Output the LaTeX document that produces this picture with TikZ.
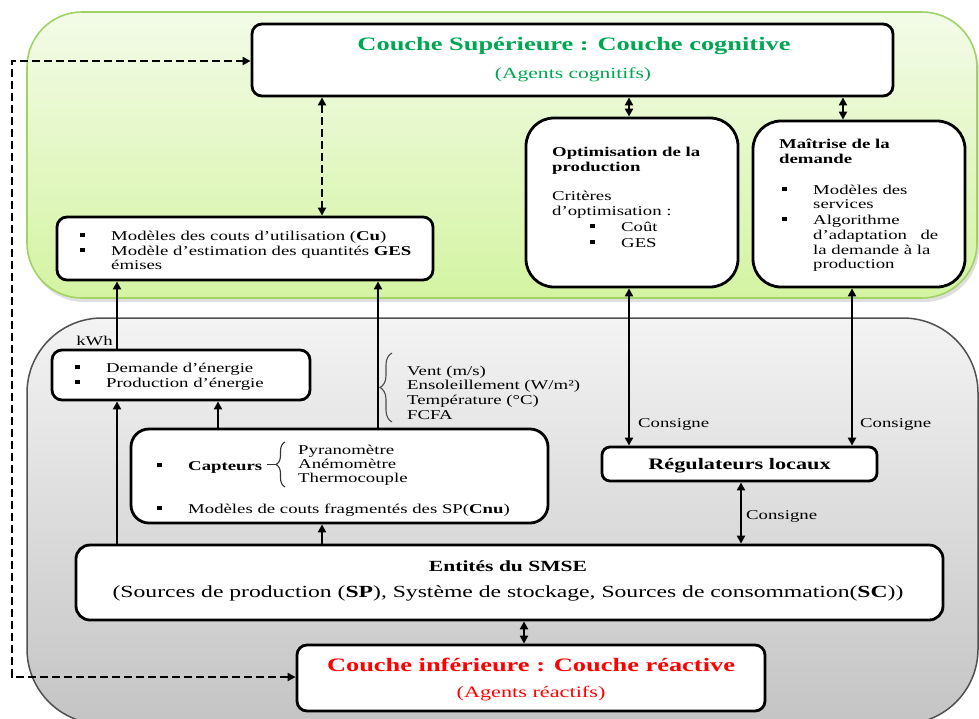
\documentclass[tikz,border=0pt]{standalone}
\usepackage{fontspec}
\setmainfont{Liberation Serif}[FakeStretch=1.39]
\usetikzlibrary{arrows.meta,decorations.pathreplacing,shadows}
\definecolor{titlegreen}{RGB}{0,166,81}
\definecolor{titlered}{RGB}{255,0,0}
\definecolor{greenfillA}{RGB}{243,251,232}
\definecolor{greenfillB}{RGB}{212,244,162}
\definecolor{greenedge}{RGB}{160,210,100}
\definecolor{grayfillA}{RGB}{243,243,243}
\definecolor{grayfillB}{RGB}{196,196,196}
\definecolor{grayedge}{RGB}{80,80,80}
\newcommand\bodyfont{\fontsize{13.5}{15}\selectfont}
\newcommand\bigtitlefont{\fontsize{19}{22}\selectfont\bfseries}
\newcommand\bul{\makebox[31pt][l]{\rule[0.2em]{4.5pt}{4.5pt}}}
\begin{document}
\begin{tikzpicture}[x=1pt,y=-1pt,
  box/.style={draw,line width=2.8pt,fill=white,rounded corners=10pt,inner sep=0pt},
  txt/.style={inner sep=0pt,anchor=base west,font=\bodyfont},
  ctxt/.style={inner sep=0pt,anchor=base},
  arr/.style={line width=2.8pt,-{Triangle[length=8pt,width=8pt]}},
  darr/.style={line width=2.8pt,{Triangle[length=8pt,width=8pt]}-{Triangle[length=8pt,width=8pt]}},
  ddash/.style={line width=2.8pt,dash pattern=on 8pt off 4pt,{Triangle[length=8pt,width=8pt]}-{Triangle[length=8pt,width=8pt]}},
  bracestyle/.style={decorate,line width=1.1pt}
]
\useasboundingbox (0,0) rectangle (979,718);
% layers
\draw[line width=1.6pt,draw=greenedge,top color=greenfillA,bottom color=greenfillB,rounded corners=55pt,
  drop shadow={opacity=0.25,shadow xshift=2pt,shadow yshift=-4pt}] (27,12) rectangle (977,298);
\draw[line width=1.5pt,draw=grayedge,top color=grayfillA,bottom color=grayfillB,rounded corners=75pt] (27,318) rectangle (978,724);

% boxes
\node[box,minimum width=641pt,minimum height=72pt] (top) at (572.5,60) {};
\node[box,minimum width=376pt,minimum height=63pt] (models) at (245,248.5) {};
\node[box,minimum width=212pt,minimum height=169pt,rounded corners=28pt] (optim) at (632,202.5) {};
\node[box,minimum width=212pt,minimum height=166pt,rounded corners=28pt] (maitrise) at (859,204) {};
\node[box,minimum width=258pt,minimum height=50pt] (demande) at (181,375) {};
\node[box,minimum width=417pt,minimum height=94pt,rounded corners=18pt] (capteurs) at (339.5,476) {};
\node[box,minimum width=275pt,minimum height=34pt,rounded corners=8pt] (reg) at (739.5,464) {};
\node[box,minimum width=867pt,minimum height=75pt,rounded corners=14pt] (entites) at (509.5,582.5) {};
\node[box,minimum width=468pt,minimum height=66pt] (inf) at (531,678) {};

% column coordinates
\coordinate (xd) at (322,0);
\coordinate (xo) at (629,0);
\coordinate (xm) at (843,0);
\coordinate (xm2) at (852,0);
\coordinate (xk) at (117,0);
\coordinate (xc) at (218,0);
\coordinate (xe) at (378,0);
\coordinate (xr) at (741,0);
\coordinate (xi) at (524,0);
\coordinate (dl1) at (12,61);
\coordinate (dl2) at (12,677);

% texts: top
\node[ctxt,font=\bigtitlefont,text=titlegreen] (toptitle) at (574,50) {Couche Supérieure : Couche cognitive};
\node[ctxt,font=\fontsize{15.5}{18}\selectfont,text=titlegreen] (topsub) at (573,78) {(Agents cognitifs)};

% models
\node[txt] (m1) at (80,240) {\bul Modèles des couts d'utilisation (\textbf{Cu})};
\node[txt] (m2) at (80,255) {\bul Modèle d'estimation des quantités \textbf{GES}};
\node[txt] (m3) at (111,269) {émises};

% optimisation
\node[txt] (o1) at (552,156) {\textbf{Optimisation de la}};
\node[txt] (o2) at (552,171) {\textbf{production}};
\node[txt] (o3) at (552,200) {Critères};
\node[txt] (o4) at (552,215) {d'optimisation :};
\node[txt] (o5) at (590,231) {\bul Coût};
\node[txt] (o6) at (590,247) {\bul GES};

% maitrise
\node[txt] (d1) at (779,148) {\textbf{Maîtrise de la}};
\node[txt] (d2) at (779,163) {\textbf{demande}};
\node[txt] (d3) at (782,194) {\bul Modèles des};
\node[txt] (d4) at (813,208) {services};
\node[txt] (d5) at (782,224) {\bul Algorithme};
\node[txt] (d6) at (813,239) {\hbox to 125pt{d'adaptation\hfill de}};
\node[txt] (d7) at (813,254) {la demande à la};
\node[txt] (d8) at (813,268) {production};

% demande
\node[txt] (e1) at (75,372) {\bul Demande d'énergie};
\node[txt] (e2) at (75,387) {\bul Production d'énergie};
\node[txt,anchor=base east] (kwh) at (113,345) {kWh};

% environment
\node[txt] (v1) at (407,375) {Vent (m/s)};
\node[txt] (v2) at (407,389) {Ensoleillement (W/m²)};
\node[txt] (v3) at (407,404) {Température (°C)};
\node[txt] (v4) at (407,419) {FCFA};
\draw[bracestyle,draw=black!70,decoration={brace,amplitude=12pt}] (392,422) -- (392,353);

% capteurs
\node[txt] (c1) at (157,470) {\bul\textbf{Capteurs}};
\node[txt] (c2) at (298,454) {Pyranomètre};
\node[txt] (c3) at (298,468) {Anémomètre};
\node[txt] (c4) at (298,482) {Thermocouple};
\node[txt] (c5) at (157,513) {\bul Modèles de couts fragmentés des SP(\textbf{Cnu})};
\draw[bracestyle,draw=black!80,decoration={brace,amplitude=9pt}] (285,487) -- (285,442);
\draw[line width=0.9pt,draw=black!80] (267,464.5) -- (276,464.5);

% regulateurs
\node[ctxt,font=\fontsize{16}{18}\selectfont\bfseries] (r1) at (739.5,469) {Régulateurs locaux};
\node[txt] (cs1) at (638,427) {Consigne};
\node[txt] (cs2) at (860,427) {Consigne};
\node[txt] (cs3) at (746,519) {Consigne};

% entites
\node[ctxt,font=\fontsize{15.5}{18}\selectfont\bfseries] (n1) at (508,571) {Entités du SMSE};
\node[ctxt,font=\fontsize{17}{20}\selectfont] (n2) at (508,597) {(Sources de production (\textbf{SP}), Système de stockage, Sources de consommation(\textbf{SC}))};

% inferieure
\node[ctxt,font=\bigtitlefont,text=titlered] (i1) at (531,671) {Couche inférieure : Couche réactive};
\node[ctxt,font=\fontsize{16}{18}\selectfont,text=titlered] (i2) at (531,697) {(Agents réactifs)};

% connectors
\draw[ddash] (top.south -| xd) -- (models.north -| xd);
\draw[darr] (top.south -| xo) -- (optim.north -| xo);
\draw[darr] (top.south -| xm) -- (maitrise.north -| xm);
\draw[ddash] (dl2 -| inf.west) -- (dl2) -- (dl1) -- (dl1 -| top.west);
\draw[arr] (entites.north -| xk) -- (demande.south -| xk);
\draw[arr] (demande.north -| xk) -- (models.south -| xk);
\draw[arr] (capteurs.north -| xc) -- (demande.south -| xc);
\draw[arr] (capteurs.north -| xe) -- (models.south -| xe);
\draw[arr] (entites.north -| xd) -- (capteurs.south -| xd);
\draw[darr] (optim.south -| xo) -- (reg.north -| xo);
\draw[darr] (maitrise.south -| xm2) -- (reg.north -| xm2);
\draw[darr] (reg.south -| xr) -- (entites.north -| xr);
\draw[ddash] (entites.south -| xi) -- (inf.north -| xi);
\end{tikzpicture}
\end{document}
